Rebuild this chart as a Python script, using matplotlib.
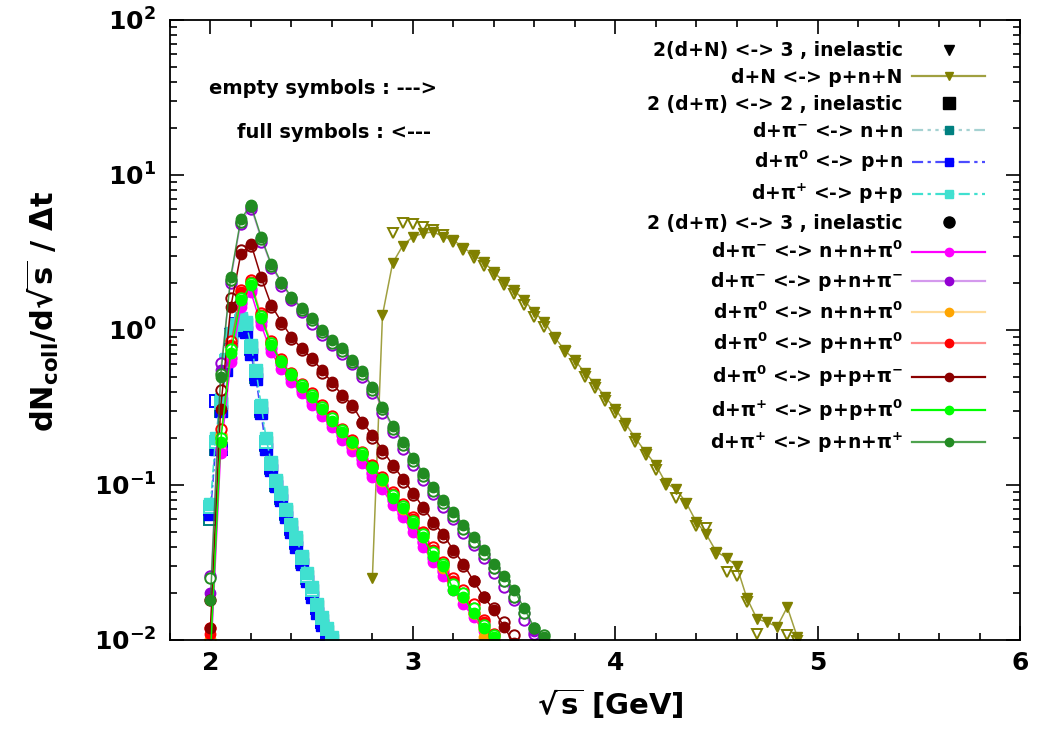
import numpy as np
import matplotlib
matplotlib.use("Agg")
import matplotlib.pyplot as plt
from matplotlib.lines import Line2D

plt.rcParams["font.family"] = ["DejaVu Sans"]
plt.rcParams["font.weight"] = "bold"
plt.rcParams["axes.labelweight"] = "bold"
plt.rcParams["mathtext.fontset"] = "dejavusans"
plt.rcParams["mathtext.default"] = "bf"

# ---- data: d+N <-> p+n+N (grid 2.80 .. 4.90, step 0.05) -------------------
x_dN = np.round(np.arange(2.80, 4.901, 0.05), 2)
dN_full = [0.025, 1.25, 2.7, 3.5, 4.0, 4.2, 4.3, 4.0, 3.8, 3.4, 3.05, 2.75, 2.37,
           2.04, 1.8, 1.56, 1.3, 1.13, 0.9, 0.74, 0.64, 0.53, 0.45, 0.37, 0.31,
           0.25, 0.2, 0.163, 0.135, 0.103, 0.094, 0.077, 0.058, 0.048, 0.037,
           0.034, 0.030, 0.0187, 0.0137, 0.013, 0.0122, 0.0163, 0.0104]
dN_empty = [np.nan, np.nan, 4.2, 4.9, 4.8, 4.6, 4.4, 4.1, 3.7, 3.3, 2.9, 2.6, 2.25,
            1.95, 1.7, 1.45, 1.22, 1.05, 0.87, 0.72, 0.6, 0.5, 0.42, 0.35, 0.29,
            0.24, 0.19, 0.155, 0.125, 0.1, 0.082, 0.075, 0.054, 0.053, 0.036,
            0.0275, 0.026, 0.0176, 0.011, 0.009, 0.008, 0.0107, 0.0099]

# ---- data: d+pi <-> N+N (grid 2.000 .. 2.600, step 0.025) ------------------
x_2b = np.round(np.arange(2.0, 2.6001, 0.025), 3)
nn_full = [0.07, 0.19, 0.34, 0.62, 0.92, 1.08, 1.16, 1.1, 0.78, 0.53, 0.32, 0.19,
           0.135, 0.105, 0.087, 0.068, 0.054, 0.044, 0.034, 0.026, 0.021, 0.0165,
           0.0135, 0.0115, 0.01]
nn_empty = [0.06, 0.17, 0.3, 0.58, 0.88, 1.05, 1.12, 1.05, 0.75, 0.5, 0.3, 0.18,
            0.128, 0.1, 0.083, 0.065, 0.052, 0.042, 0.032, 0.025, 0.02, 0.016,
            0.013, 0.011, 0.0095]
pn_full = [0.065, 0.17, 0.3, 0.55, 0.85, 1.0, 1.0, 0.97, 0.7, 0.48, 0.29, 0.17,
           0.125, 0.098, 0.08, 0.062, 0.05, 0.04, 0.031, 0.024, 0.019, 0.015,
           0.0125, 0.0105, 0.009]
pn_empty = [0.07, 0.35, 0.17, 0.6, 0.93, 1.1, 1.12, 1.08, 0.76, 0.52, 0.31, 0.185,
            0.13, 0.104, 0.085, 0.066, 0.053, 0.043, 0.033, 0.026, 0.02, 0.016,
            0.013, 0.011, 0.0098]
pp_full = [0.075, 0.2, 0.36, 0.65, 0.95, 1.1, 1.2, 1.13, 0.8, 0.55, 0.33, 0.2,
           0.14, 0.108, 0.09, 0.07, 0.056, 0.046, 0.035, 0.027, 0.022, 0.017,
           0.014, 0.012, 0.0105]
pp_empty = [0.072, 0.19, 0.34, 0.63, 0.92, 1.08, 1.15, 1.1, 0.78, 0.54, 0.32, 0.19,
            0.137, 0.106, 0.088, 0.069, 0.055, 0.045, 0.034, 0.026, 0.021, 0.0168,
            0.0138, 0.0118, 0.0102]

# ---- data: d+pi <-> N+N+pi (grid 2.00 .. 3.65, step 0.05) ------------------
x_3b = np.round(np.arange(2.0, 3.6501, 0.05), 2)
nnpi0m_full = [0.007, 0.16, 0.62, 1.4, 1.75, 1.08, 0.72, 0.56, 0.46, 0.39, 0.33,
               0.28, 0.235, 0.195, 0.165, 0.138, 0.112, 0.094, 0.074, 0.062, 0.05,
               0.04, 0.032, 0.026, 0.021, 0.017, 0.014, 0.0115, 0.0092, 0.0075,
               0.006, 0.005, 0.004, 0.003]
nnpi0m_empty = [0.008, 0.17, 0.66, 1.5, 1.85, 1.15, 0.77, 0.6, 0.49, 0.41, 0.35,
                0.3, 0.25, 0.21, 0.175, 0.147, 0.12, 0.1, 0.08, 0.066, 0.054,
                0.043, 0.034, 0.028, 0.024, 0.019, 0.015, 0.0125, 0.0098, 0.008,
                0.0065, 0.005, 0.004, 0.003]
pnpim_full = [0.02, 0.55, 2.1, 5.0, 6.2, 3.9, 2.6, 2.0, 1.6, 1.36, 1.17, 0.98, 0.84,
              0.74, 0.63, 0.53, 0.42, 0.31, 0.235, 0.185, 0.147, 0.118, 0.095,
              0.078, 0.065, 0.053, 0.044, 0.036, 0.029, 0.024, 0.019, 0.015,
              0.0115, 0.0098]
pnpim_empty = [0.026, 0.61, 2.0, 4.8, 6.0, 3.7, 2.5, 1.92, 1.55, 1.3, 1.1, 0.93,
               0.8, 0.7, 0.6, 0.5, 0.39, 0.29, 0.22, 0.17, 0.135, 0.108, 0.087,
               0.072, 0.06, 0.049, 0.041, 0.034, 0.027, 0.022, 0.018, 0.0135,
               0.011, 0.0095]
nnpi00_full = [0.009, 0.19, 0.76, 1.7, 2.0, 1.22, 0.81, 0.62, 0.51, 0.43, 0.37,
               0.31, 0.26, 0.22, 0.185, 0.155, 0.128, 0.106, 0.084, 0.07, 0.057,
               0.046, 0.036, 0.029, 0.023, 0.019, 0.015, 0.0105, 0.0085, 0.007,
               0.0055, 0.0045, 0.0035, 0.003]
nnpi00_empty = [0.01, 0.21, 0.8, 1.75, 2.05, 1.25, 0.83, 0.64, 0.52, 0.44, 0.38,
                0.32, 0.27, 0.225, 0.19, 0.16, 0.13, 0.108, 0.086, 0.072, 0.058,
                0.047, 0.037, 0.03, 0.024, 0.019, 0.015, 0.012, 0.0095, 0.0075,
                0.006, 0.0048, 0.0038, 0.003]
pnpi00_full = [0.011, 0.2, 0.8, 1.75, 2.05, 1.25, 0.83, 0.63, 0.52, 0.44, 0.38,
               0.32, 0.27, 0.225, 0.19, 0.16, 0.132, 0.11, 0.088, 0.073, 0.06,
               0.049, 0.038, 0.031, 0.024, 0.02, 0.016, 0.013, 0.0105, 0.0085,
               0.0068, 0.0055, 0.0044, 0.0035]
pnpi00_empty = [0.012, 0.23, 0.85, 1.8, 2.1, 1.28, 0.85, 0.65, 0.53, 0.45, 0.39,
                0.33, 0.28, 0.23, 0.195, 0.163, 0.134, 0.112, 0.09, 0.075, 0.062,
                0.05, 0.04, 0.032, 0.025, 0.021, 0.017, 0.0135, 0.011, 0.009,
                0.007, 0.0056, 0.0045, 0.0036]
pppim_full = [0.012, 0.31, 1.4, 3.1, 3.6, 2.2, 1.45, 1.13, 0.9, 0.76, 0.66, 0.55,
              0.46, 0.38, 0.33, 0.255, 0.21, 0.168, 0.135, 0.11, 0.089, 0.072,
              0.058, 0.048, 0.038, 0.031, 0.024, 0.019, 0.0157, 0.0122, 0.0095,
              0.0075, 0.006, 0.005]
pppim_empty = [0.018, 0.41, 1.6, 3.3, 3.5, 2.1, 1.4, 1.1, 0.88, 0.74, 0.64, 0.53,
               0.44, 0.37, 0.32, 0.25, 0.2, 0.16, 0.13, 0.105, 0.086, 0.07, 0.056,
               0.046, 0.037, 0.03, 0.024, 0.019, 0.016, 0.013, 0.0108, 0.008,
               0.006, 0.005]
pppi0_full = [0.008, 0.19, 0.71, 1.56, 1.95, 1.2, 0.8, 0.62, 0.51, 0.43, 0.37,
              0.31, 0.26, 0.22, 0.19, 0.156, 0.128, 0.108, 0.083, 0.071, 0.057,
              0.046, 0.035, 0.03, 0.021, 0.019, 0.015, 0.012, 0.0105, 0.008,
              0.0065, 0.005, 0.004, 0.003]
pppi0_empty = [0.009, 0.2, 0.75, 1.62, 2.0, 1.23, 0.82, 0.63, 0.52, 0.44, 0.38,
               0.32, 0.27, 0.225, 0.19, 0.16, 0.13, 0.11, 0.086, 0.073, 0.059,
               0.048, 0.037, 0.031, 0.023, 0.02, 0.016, 0.0125, 0.0108, 0.0085,
               0.007, 0.0055, 0.0043, 0.0033]
pnpip_full = [0.018, 0.5, 2.2, 5.2, 6.4, 4.0, 2.66, 2.04, 1.63, 1.39, 1.2, 1.0,
              0.86, 0.76, 0.64, 0.54, 0.43, 0.32, 0.24, 0.19, 0.15, 0.12, 0.097,
              0.08, 0.067, 0.055, 0.046, 0.038, 0.031, 0.026, 0.021, 0.016,
              0.012, 0.0105]
pnpip_empty = [0.025, 0.52, 2.1, 5.0, 6.3, 3.85, 2.6, 2.0, 1.6, 1.35, 1.16, 0.97,
               0.83, 0.73, 0.62, 0.52, 0.41, 0.31, 0.23, 0.18, 0.143, 0.115,
               0.092, 0.076, 0.063, 0.052, 0.043, 0.036, 0.029, 0.024, 0.019,
               0.015, 0.012, 0.0108]

labels = {
    "dN": "d+N <-> p+n+N",
    "nn": "d+π$^{-}$ <-> n+n",
    "pn": "d+π$^{0}$ <-> p+n",
    "pp": "d+π$^{+}$ <-> p+p",
    "nnpi0m": "d+π$^{-}$ <-> n+n+π$^{0}$",
    "pnpim": "d+π$^{-}$ <-> p+n+π$^{-}$",
    "nnpi00": "d+π$^{0}$ <-> n+n+π$^{0}$",
    "pnpi00": "d+π$^{0}$ <-> p+n+π$^{0}$",
    "pppim": "d+π$^{0}$ <-> p+p+π$^{-}$",
    "pppi0": "d+π$^{+}$ <-> p+p+π$^{0}$",
    "pnpip": "d+π$^{+}$ <-> p+n+π$^{+}$",
}

fig = plt.figure(figsize=(10.48, 7.38), dpi=100)
ax = fig.add_axes([0.1622, 0.1328, 0.8111, 0.8401])


def rgba(c, a):
    r, g, b = matplotlib.colors.to_rgb(c)
    return (r, g, b, a)


def draw(x, full, empty, color, marker, ls, ms, line_alpha, lw=1.1):
    ax.plot(x, empty, ls="none", marker=marker, ms=ms, mfc="white",
            mec=color, mew=1.4)
    ax.plot(x, full, ls=ls, lw=lw, color=rgba(color, line_alpha),
            marker=marker, ms=ms, mfc=color, mec=color)
    return Line2D([], [], ls=ls, lw=1.6, color=rgba(color, line_alpha),
                  marker=marker, ms=6, mfc=color, mec=color)


handles, names = [], []
handles.append(Line2D([], [], ls="none", marker="v", ms=7, color="black"))
names.append("2(d+N) <-> 3 , inelastic")
handles.append(draw(x_dN, dN_full, dN_empty, "#808000", "v", "-", 7, 0.75))
names.append(labels["dN"])

handles.append(Line2D([], [], ls="none", marker="s", ms=9, color="black"))
names.append("2 (d+π) <-> 2 , inelastic")
dashdotdot = (0, (5, 2, 1.5, 2, 1.5, 2))
for key, full, empty, col, ls, la in [
        ("nn", nn_full, nn_empty, "#008080", dashdotdot, 0.35),
        ("pn", pn_full, pn_empty, "#0000ff", (0, (5, 2, 1.5, 2)), 0.7),
        ("pp", pp_full, pp_empty, "#40e0d0", (0, (5, 2, 1.5, 2)), 1.0)]:
    handles.append(draw(x_2b, full, empty, col, "s", ls, 8, la))
    names.append(labels[key])

handles.append(Line2D([], [], ls="none", marker="o", ms=8, color="black"))
names.append("2 (d+π) <-> 3 , inelastic")
for key, full, empty, col, la in [
        ("nnpi0m", nnpi0m_full, nnpi0m_empty, "#ff00ff", 1.0),
        ("pnpim", pnpim_full, pnpim_empty, "#9400d3", 0.4),
        ("nnpi00", nnpi00_full, nnpi00_empty, "#ffa500", 0.4),
        ("pnpi00", pnpi00_full, pnpi00_empty, "#ff0000", 0.45),
        ("pppim", pppim_full, pppim_empty, "#8b0000", 1.0),
        ("pppi0", pppi0_full, pppi0_empty, "#00ff00", 1.0),
        ("pnpip", pnpip_full, pnpip_empty, "#228b22", 0.8)]:
    handles.append(draw(x_3b, full, empty, col, "o", "-", 7.5, la))
    names.append(labels[key])

ax.set_yscale("log")
ax.set_xlim(1.8, 6.0)
ax.set_ylim(1e-2, 1e2)
ax.set_xticks([2, 3, 4, 5, 6])
ax.set_xticks(np.arange(1.8, 6.01, 0.2), minor=True)
ax.tick_params(which="both", direction="in", top=True, right=True,
               width=1.2, labelsize=18)
ax.tick_params(which="major", length=10)
ax.tick_params(which="minor", length=5)
ax.tick_params(axis="x", pad=8)
ax.tick_params(axis="y", pad=10)
for s in ax.spines.values():
    s.set_linewidth(1.3)

ax.set_xlabel(r"$\sqrt{s}$ [GeV]", fontsize=21, fontweight="bold", labelpad=4)
ax.xaxis.set_label_coords(0.518, -0.075)
ax.set_ylabel(r"dN$_{coll}$/d$\sqrt{s}$ / Δt", fontsize=22, fontweight="bold")
ax.yaxis.set_label_coords(-0.128, 0.53)

ax.text(1.995, 36, "empty symbols : --->", fontsize=14, va="center")
ax.text(2.13, 18.7, "full symbols : <---", fontsize=14, va="center")

leg = ax.legend(handles, names, loc="upper right", bbox_to_anchor=(0.968, 0.978),
                frameon=False, markerfirst=False, fontsize=13.5,
                handlelength=3.9, handletextpad=0.5, labelspacing=0.42,
                borderaxespad=0)
for t in leg.get_texts():
    t.set_ha("right")

fig.savefig("out.png", dpi=100)
